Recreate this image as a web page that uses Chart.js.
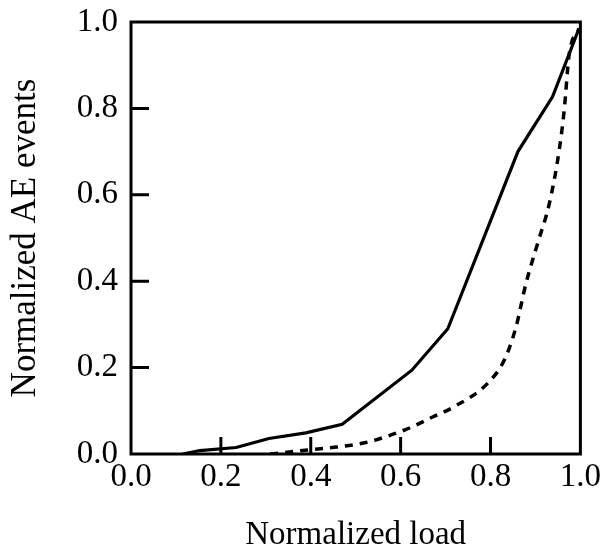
<!DOCTYPE html>
<html>
<head>
<meta charset="utf-8">
<script src="https://cdn.jsdelivr.net/npm/chart.js@4"></script>
<style>
  body { margin: 0; background: #fff; }
  #wrap { width: 605px; height: 553px; }
</style>
</head>
<body>
<div id="wrap"><canvas id="chart" width="605" height="553"></canvas></div>
<script>
// values
let solidX = [0.115, 0.153, 0.234, 0.307, 0.389, 0.47, 0.625, 0.705, 0.861, 0.938, 0.997];
let solidY = [0, 0.008, 0.015, 0.036, 0.049, 0.069, 0.194, 0.29, 0.70, 0.827, 0.985];
let dashX = [0.31, 0.40, 0.44, 0.52, 0.61, 0.67, 0.72, 0.794, 0.831, 0.857, 0.879, 0.905, 0.931, 0.953, 0.964, 0.975, 0.997];
let dashY = [0, 0.01, 0.014, 0.026, 0.056, 0.085, 0.11, 0.164, 0.218, 0.295, 0.395, 0.488, 0.58, 0.704, 0.796, 0.924, 0.985];
let tickVals = [0, 0.2, 0.4, 0.6, 0.8, 1.0];

let serif = "'Liberation Serif', 'Times New Roman', serif";

function pts(xs, ys) {
    return xs.map((v, i) => ({ x: v, y: ys[i] }));
}

// box round the plot and ticks pointing inwards
let frame = {
    id: 'frame',
    afterDraw(chart) {
        let c = chart.ctx;
        let a = chart.chartArea;
        let xs = chart.scales.x;
        let ys = chart.scales.y;
        c.save();
        c.strokeStyle = '#000';
        c.lineWidth = 3;
        c.strokeRect(a.left, a.top, a.right - a.left, a.bottom - a.top);
        c.beginPath();
        for (let v of tickVals) {
            if (v === 0 || v === 1) continue;
            let px = xs.getPixelForValue(v);
            c.moveTo(px, a.bottom);
            c.lineTo(px, a.bottom - 17);
            let py = ys.getPixelForValue(v);
            c.moveTo(a.left, py);
            c.lineTo(a.left + 18, py);
        }
        c.stroke();
        c.restore();
    }
};

let graph = new Chart(document.getElementById('chart'), {
    type: 'scatter',
    data: {
        datasets: [{
            label: 'solid',
            data: pts(solidX, solidY),
            showLine: true,
            borderColor: '#000',
            borderWidth: 3.2,
            pointRadius: 0,
            tension: 0
        }, {
            label: 'dashed',
            data: pts(dashX, dashY),
            showLine: true,
            borderColor: '#000',
            borderWidth: 3.5,
            borderDash: [8, 7],
            pointRadius: 0,
            cubicInterpolationMode: 'monotone'
        }]
    },
    options: {
        responsive: false,
        animation: false,
        layout: { padding: { top: 22, right: 22, left: 0, bottom: 0 } },
        plugins: {
            legend: { display: false },
            tooltip: { enabled: false }
        },
        scales: {
            x: {
                type: 'linear',
                min: 0,
                max: 1,
                afterBuildTicks: (s) => { s.ticks = tickVals.map(v => ({ value: v })); },
                afterFit: (s) => { s.height = 99; },
                grid: { display: false, drawTicks: false },
                border: { display: false },
                ticks: {
                    color: '#000',
                    padding: 4,
                    font: { family: serif, size: 33 },
                    callback: (v) => v.toFixed(1)
                },
                title: {
                    display: true,
                    text: 'Normalized load',
                    color: '#000',
                    font: { family: serif, size: 33 },
                    padding: { top: 18, bottom: -2 }
                }
            },
            y: {
                type: 'linear',
                min: 0,
                max: 1,
                afterBuildTicks: (s) => { s.ticks = tickVals.map(v => ({ value: v })); },
                afterFit: (s) => {
                    s.width = 131;
                    s.paddingTop = 10;
                    s.paddingBottom = 10;
                },
                grid: { display: false, drawTicks: false },
                border: { display: false },
                ticks: {
                    color: '#000',
                    padding: 13,
                    font: { family: serif, size: 33 },
                    callback: (v) => v.toFixed(1)
                },
                title: {
                    display: true,
                    text: 'Normalized AE events',
                    color: '#000',
                    font: { family: serif, size: 35 },
                    padding: { top: 5, bottom: 0 }
                }
            }
        }
    },
    plugins: [frame]
});
</script>
</body>
</html>
